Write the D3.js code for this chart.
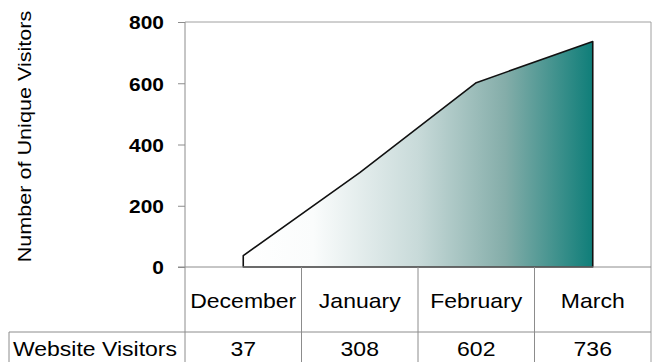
<!DOCTYPE html>
<html>
<head>
<meta charset="utf-8">
<script src="https://cdn.jsdelivr.net/npm/d3@7"></script>
<style>
  html, body { margin: 0; padding: 0; background: #fff; }
  svg { display: block; }
  text { font-family: "Liberation Sans", Arial, sans-serif; fill: #000; }
</style>
</head>
<body>
<svg id="chart" width="657" height="362"></svg>
<script>
// Monthly unique visitors
const months = ["December", "January", "February", "March"];
const visitors = [37, 308, 602, 736];
const yTicks = [0, 200, 400, 600, 800];
const yTitle = "Number of Unique Visitors";
const rowLabel = "Website Visitors";

const W = 657, H = 362;
const plot = { left: 185, right: 651, top: 22, bottom: 267 };
const headerBottom = 332;
const gridColor = "#8c8c8c";
const sx = 1.15; // wide glyph look of the labels

const svg = d3.select("#chart");

const x = d3.scaleBand().domain(months).range([plot.left, plot.right]).padding(0);
const y = d3.scaleLinear().domain([0, 800]).range([plot.bottom, plot.top]);
const cx = m => x(m) + x.bandwidth() / 2;

// horizontal fill gradient across the data extent
const defs = svg.append("defs");
const grad = defs.append("linearGradient")
  .attr("id", "fillGrad")
  .attr("gradientUnits", "userSpaceOnUse")
  .attr("x1", cx(months[0])).attr("x2", cx(months[months.length - 1]))
  .attr("y1", 0).attr("y2", 0);
[[0, "#ffffff"], [0.2, "#fafcfc"], [0.5, "#c8dad9"], [0.75, "#84ada9"], [1, "#0f7e79"]]
  .forEach(([o, c]) => grad.append("stop").attr("offset", o).attr("stop-color", c));

// plot frame: top and right edges
svg.append("path")
  .attr("d", `M${plot.left},${plot.top}H${plot.right}V${H}`)
  .attr("fill", "none").attr("stroke", "#a0a0a0").attr("stroke-width", 1);

// area
const data = months.map((m, i) => ({ m, v: visitors[i] }));
const area = d3.area()
  .x(d => cx(d.m))
  .y0(y(0))
  .y1(d => y(d.v));
svg.append("path")
  .datum(data)
  .attr("d", area)
  .attr("fill", "url(#fillGrad)")
  .attr("stroke", "#111")
  .attr("stroke-width", 1.6)
  .attr("stroke-linejoin", "round");

// y axis
const yAxis = d3.axisLeft(y).tickValues(yTicks).tickSize(7).tickPadding(0).tickFormat(d3.format("d"));
const gy = svg.append("g").attr("transform", `translate(${plot.left},0)`).call(yAxis);
gy.select(".domain").attr("stroke", gridColor).attr("d", `M0,${plot.top}V${H}`);
gy.selectAll(".tick line").attr("stroke", gridColor);
gy.selectAll(".tick text").remove();
gy.selectAll(".tick").append("g")
  .attr("transform", "translate(-21,0) scale(1.1,1)")
  .append("text")
  .attr("text-anchor", "end")
  .attr("dy", "0.36em")
  .style("font-size", "19px")
  .style("font-weight", "bold")
  .text(d => d);

// baseline across the plot
svg.append("line")
  .attr("x1", plot.left - 7).attr("x2", plot.right)
  .attr("y1", y(0)).attr("y2", y(0))
  .attr("stroke", gridColor);

// y title
svg.append("g")
  .attr("transform", `translate(31,${(10 + 263) / 2}) rotate(-90) scale(1.2,1)`)
  .append("text")
  .attr("text-anchor", "middle")
  .style("font-size", "18px")
  .text(yTitle);

// data table: column dividers
const bounds = months.map(m => x(m)).concat([plot.right]);
svg.selectAll("line.col")
  .data(bounds.slice(1, -1))
  .join("line")
  .attr("class", "col")
  .attr("x1", d => d).attr("x2", d => d)
  .attr("y1", plot.bottom).attr("y2", H)
  .attr("stroke", gridColor);

// row divider and row label box
svg.append("path")
  .attr("d", `M9,${H}V${headerBottom}H${plot.right}`)
  .attr("fill", "none").attr("stroke", gridColor);

// category headers
svg.selectAll("g.cat")
  .data(months)
  .join("g")
  .attr("class", "cat")
  .attr("transform", d => `translate(${cx(d)},308) scale(${sx},1)`)
  .append("text")
  .attr("text-anchor", "middle")
  .style("font-size", "20px")
  .text(d => d);

// values row
const rowBase = 356;
svg.selectAll("g.val")
  .data(data)
  .join("g")
  .attr("class", "val")
  .attr("transform", d => `translate(${cx(d.m)},${rowBase}) scale(${sx},1)`)
  .append("text")
  .attr("text-anchor", "middle")
  .style("font-size", "20px")
  .text(d => d.v);

svg.append("g")
  .attr("transform", `translate(13,${rowBase}) scale(${sx},1)`)
  .append("text")
  .style("font-size", "20px")
  .text(rowLabel);
</script>
</body>
</html>
